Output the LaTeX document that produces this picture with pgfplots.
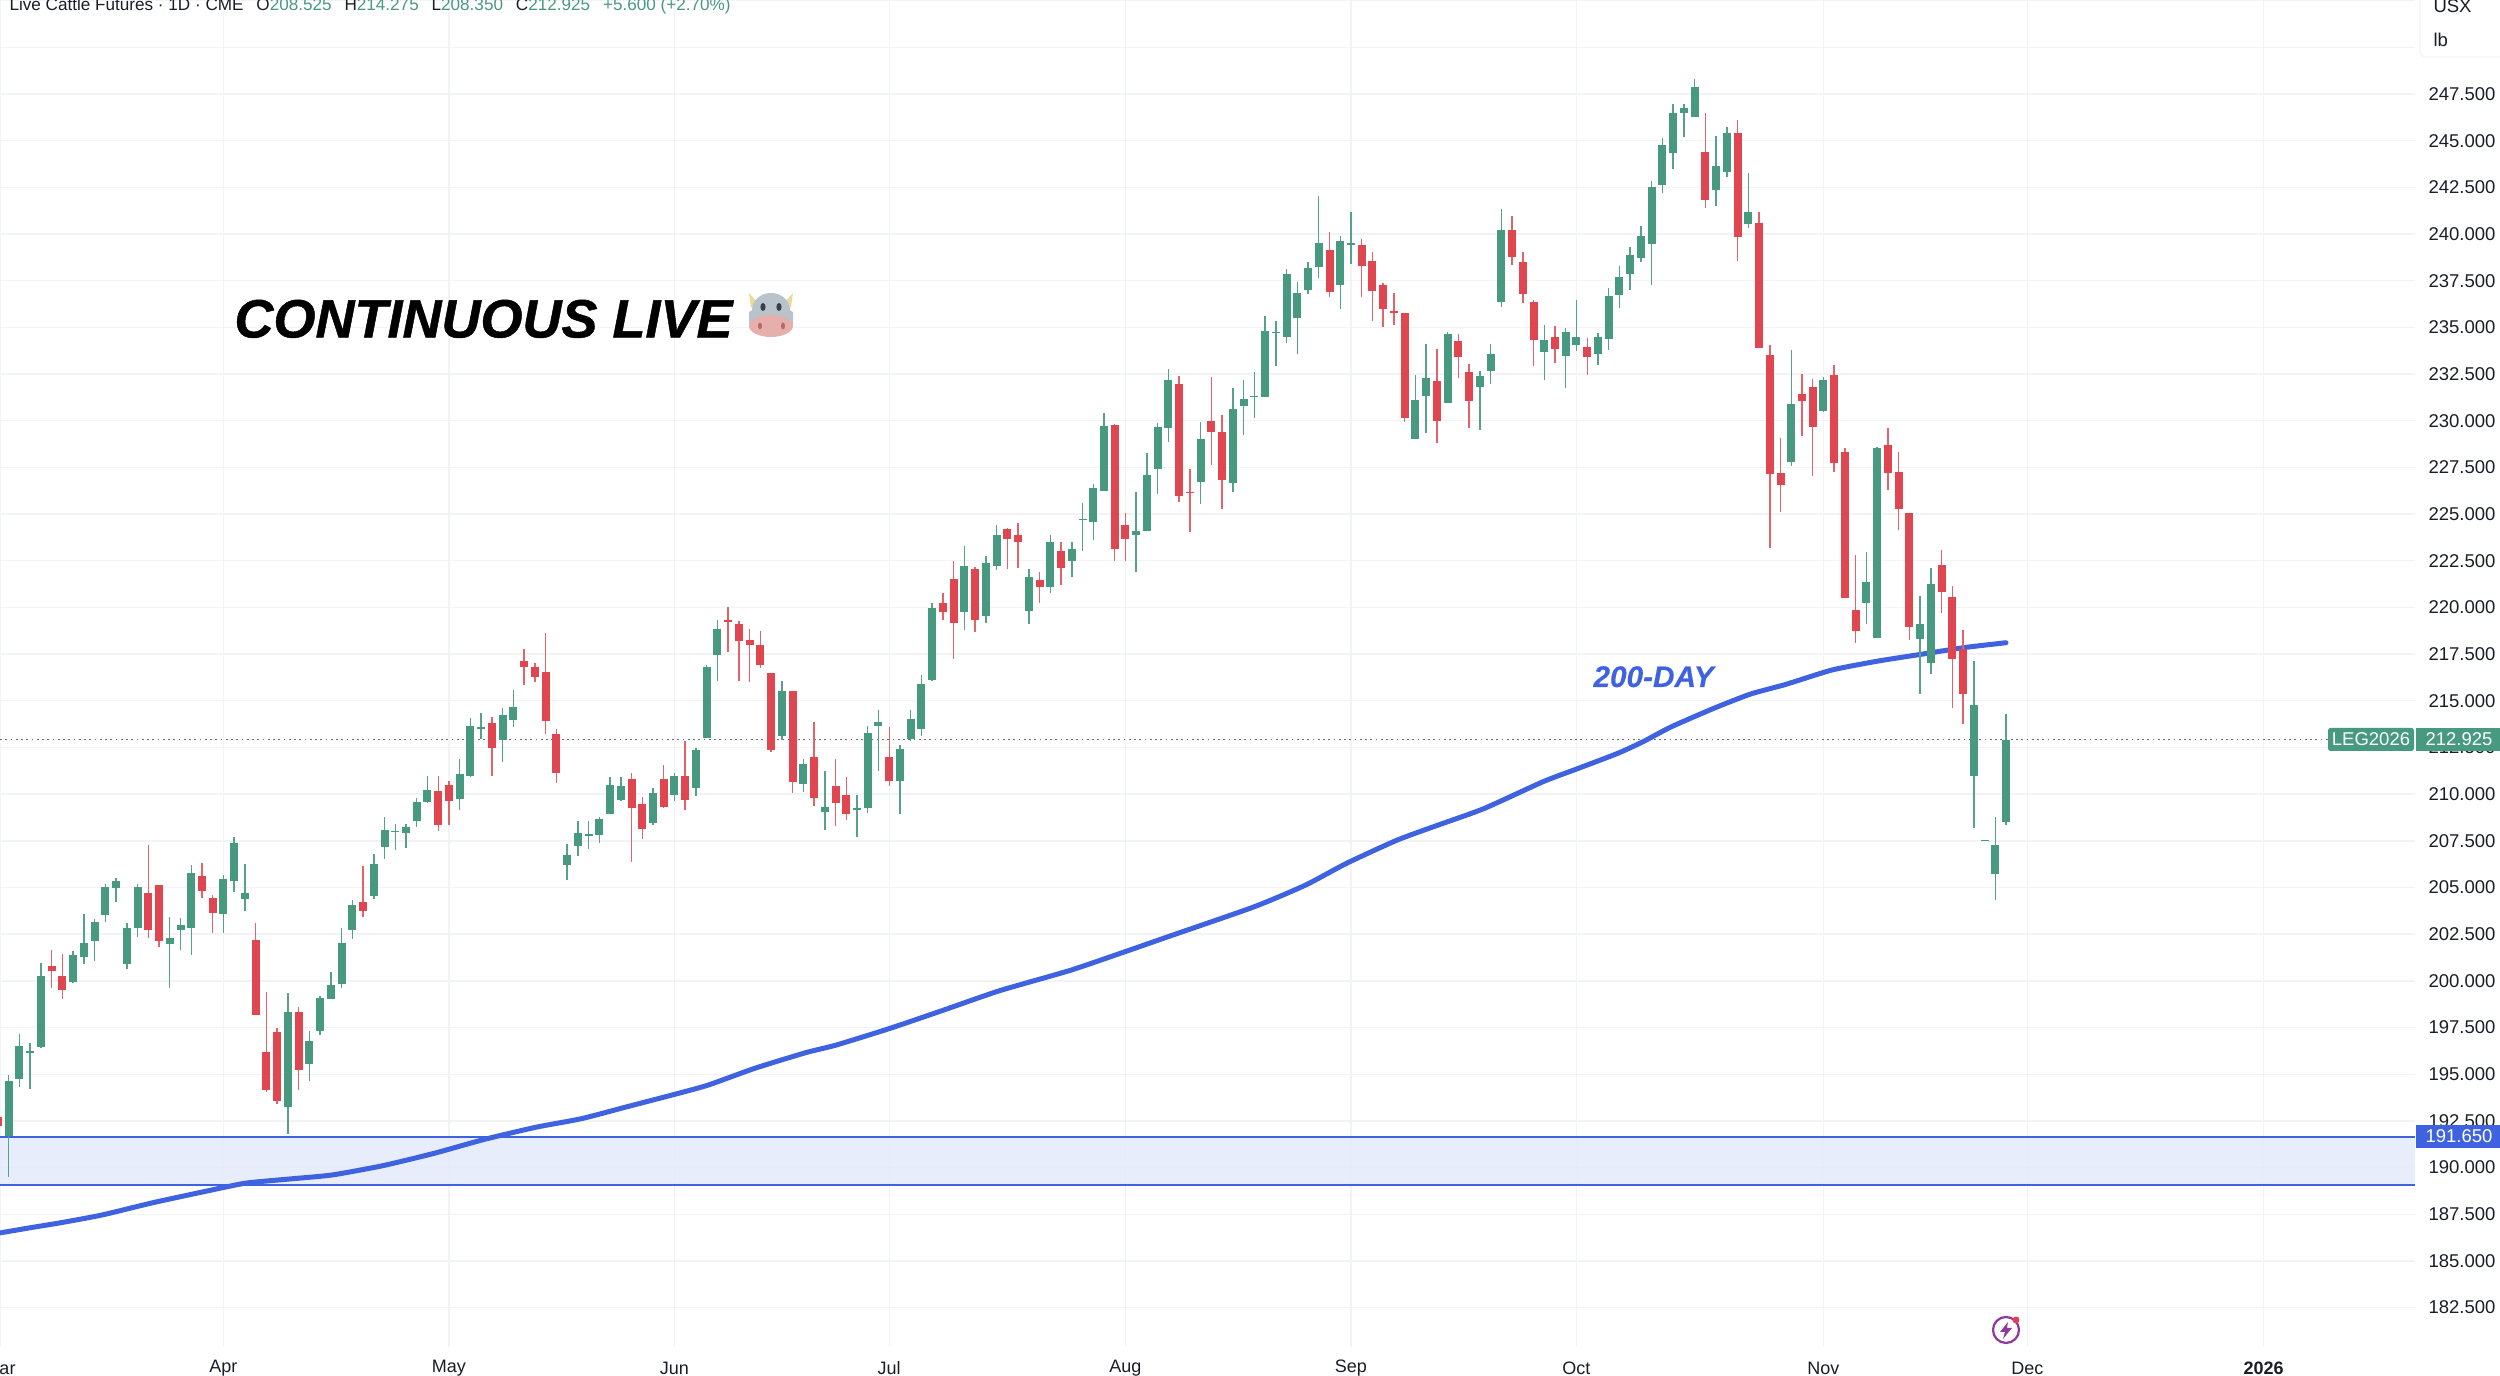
\documentclass[border=0pt]{standalone}
\usepackage{pgfplots}
\usepackage{pgfplotstable}
\usepackage{fontspec}
\setmainfont{Liberation Sans}
\newfontfamily\heavy{Liberation Sans}[BoldItalicFeatures={FakeBold=0.9}]
\newfontfamily\semiheavy{Liberation Sans}[BoldItalicFeatures={FakeBold=0.3}]
\pgfplotsset{compat=1.18}
\definecolor{cg}{HTML}{479980}
\definecolor{cr}{HTML}{DF4650}
\definecolor{cb}{HTML}{3F63E0}
\definecolor{bandc}{HTML}{E3EAFA}
\definecolor{gridc}{HTML}{F2F3F5}
\definecolor{txt}{HTML}{1A1D26}
\definecolor{horn}{HTML}{EAD99A}
\definecolor{head}{HTML}{B9C3CC}
\definecolor{snout}{HTML}{E6AFAB}
\definecolor{eye}{HTML}{3A3F47}
\definecolor{nost}{HTML}{B66A66}
\definecolor{bolt}{HTML}{8E3B9E}
\definecolor{dotr}{HTML}{E0405A}
\pgfplotstableread{
i H T B L
0 194.94 194.64 191.67 189.49
1 197.18 196.52 194.74 194.32
2 196.66 196.27 196.15 194.21
3 200.94 200.27 196.46 196.39
6 201.58 201.38 199.93 199.89
7 203.60 202.05 201.26 200.88
8 203.32 203.16 202.11 201.06
9 205.18 205.02 203.54 203.14
10 205.50 205.34 204.96 204.23
11 203.08 202.82 200.90 200.65
12 205.18 205.02 202.84 202.37
15 203.42 202.31 201.99 199.60
16 203.34 203.00 202.71 201.66
17 206.21 205.80 202.84 201.38
20 205.66 205.44 203.58 202.59
21 207.70 207.38 205.34 204.75
22 206.27 204.69 204.37 203.72
26 199.34 198.35 193.22 191.81
28 197.34 196.80 195.57 194.66
29 199.20 199.06 197.34 197.08
30 200.49 199.79 199.04 199.02
31 202.81 202.05 199.85 199.60
32 204.35 204.05 202.71 202.23
34 206.77 206.27 204.55 204.37
35 208.77 208.08 207.18 206.53
36 208.41 208.04 207.98 206.99
37 208.39 208.23 207.92 207.12
38 209.78 209.58 208.57 208.25
39 210.97 210.20 209.56 209.52
42 211.88 211.09 209.74 209.13
43 214.08 213.64 210.95 210.93
44 214.32 213.62 213.49 212.97
46 214.59 214.24 212.91 211.74
47 215.59 214.65 213.98 213.58
52 207.33 206.72 206.18 205.40
53 208.57 207.90 207.22 206.67
54 208.55 207.84 207.74 207.07
55 208.77 208.65 207.82 207.40
56 210.93 210.49 208.95 208.95
57 210.90 210.41 209.68 209.65
60 210.33 210.04 208.47 208.36
62 211.15 210.97 209.95 209.65
64 212.45 212.34 210.33 209.92
65 216.93 216.83 213.02 213.02
66 219.31 218.86 217.47 216.08
72 216.04 215.52 213.13 212.90
74 211.88 211.63 210.56 210.11
76 211.24 209.33 209.02 208.09
79 209.97 209.24 209.17 207.70
80 213.63 213.25 209.25 209.00
81 214.49 213.86 213.63 211.25
83 212.63 212.41 210.70 208.92
84 214.49 214.04 212.93 212.83
85 216.36 215.90 213.50 213.11
86 220.22 219.97 216.13 216.08
89 223.27 222.20 219.74 218.77
91 222.75 222.38 219.52 219.18
92 224.40 223.90 222.22 222.00
95 222.04 221.61 219.81 219.11
97 223.89 223.48 221.11 220.79
99 223.48 223.11 222.48 221.63
100 225.57 224.75 224.68 223.00
101 226.59 226.41 224.59 223.59
102 230.41 229.71 226.25 226.25
105 226.20 224.07 223.88 221.91
106 228.29 227.07 224.11 224.11
107 229.89 229.64 227.41 226.05
108 232.75 232.20 229.59 228.84
111 229.95 229.00 226.73 225.55
114 231.73 230.64 226.68 226.18
115 232.18 231.16 230.77 229.22
116 232.61 231.34 231.27 230.14
117 235.61 234.82 231.27 231.27
118 235.32 234.77 234.70 232.93
119 238.13 237.84 234.48 234.14
120 237.41 236.82 235.48 233.55
121 238.52 238.20 237.00 236.77
122 242.05 239.52 238.23 237.66
124 239.89 239.64 237.29 235.96
125 241.20 239.54 239.43 238.41
131 232.47 231.11 229.02 229.00
132 234.11 232.27 231.34 229.36
134 234.75 234.63 230.96 230.96
137 232.64 232.39 231.80 229.48
138 234.13 233.57 232.66 231.98
139 241.34 240.23 236.36 236.07
143 235.13 234.30 233.70 232.18
145 234.98 234.73 233.48 231.77
146 236.45 234.48 234.04 233.71
148 234.68 234.48 233.55 233.00
149 237.09 236.68 234.37 233.77
150 238.30 237.71 236.73 236.05
151 239.32 238.86 237.86 237.00
152 240.43 239.91 238.73 238.48
153 242.82 242.53 239.48 237.27
154 245.12 244.77 242.62 242.18
155 246.98 246.50 244.34 243.50
156 246.98 246.75 246.50 245.18
157 248.32 247.86 246.25 246.25
159 245.27 243.64 242.37 241.52
160 245.75 245.43 243.34 243.03
162 243.25 241.16 240.52 240.34
166 233.78 230.89 227.77 227.55
169 232.34 232.19 230.52 230.45
173 222.95 221.35 220.26 219.09
174 228.58 228.54 218.34 218.34
178 220.61 219.11 218.32 215.34
179 222.12 221.27 217.05 216.43
183 217.11 214.75 210.96 208.19
184 207.52 207.52 207.48 207.48
185 208.78 207.30 205.73 204.33
186 214.275 212.925 208.525 208.35
}\greenbars
\pgfplotstableread{
i H T B L
-1 192.96 192.70 192.22 192.07
4 201.64 200.78 200.55 199.60
5 201.42 200.27 199.52 199.04
13 207.28 204.73 202.75 202.29
14 205.14 205.12 202.11 201.81
18 206.33 205.62 204.81 204.45
19 204.61 204.45 203.64 202.55
23 203.10 202.21 198.17 198.17
24 199.40 196.21 194.15 194.03
25 197.49 197.26 193.59 193.41
27 198.58 198.35 195.20 194.13
33 206.17 204.25 203.72 203.40
40 210.95 210.18 208.37 208.00
41 210.69 210.51 209.64 208.33
45 214.12 213.80 212.49 210.99
48 217.76 217.13 216.81 215.82
49 217.03 216.83 216.30 216.00
50 218.62 216.54 213.94 213.23
51 213.47 213.23 211.15 210.61
58 211.15 210.79 209.27 206.34
59 209.83 209.49 208.15 207.58
61 211.56 210.79 209.31 209.27
63 212.84 210.97 209.68 209.13
67 220.04 219.34 219.22 217.63
68 219.29 219.13 218.18 216.08
69 218.83 218.24 217.99 215.99
70 218.75 217.97 216.91 216.74
71 216.50 216.49 212.38 212.25
73 215.54 215.52 210.63 210.08
75 213.84 211.97 209.77 209.36
77 211.90 210.41 209.52 208.29
78 210.93 209.97 208.95 208.59
82 213.61 212.00 210.70 210.43
87 220.79 220.24 219.74 219.33
88 222.50 221.50 219.18 217.22
90 222.15 222.06 219.33 218.70
93 224.24 224.20 223.67 222.08
94 224.54 223.90 223.50 222.13
96 221.91 221.47 221.11 220.25
98 223.48 223.04 222.12 221.18
103 229.81 229.77 223.11 222.48
104 225.04 224.41 223.66 222.48
109 232.39 231.98 225.97 225.63
110 227.39 226.18 226.11 224.02
112 232.32 229.97 229.41 227.63
113 230.30 229.37 226.82 225.25
123 240.13 239.16 236.87 236.63
126 239.75 239.41 238.29 236.63
127 239.02 238.54 236.93 235.36
128 237.38 237.27 235.98 235.04
129 236.86 235.86 235.79 235.14
130 235.75 235.75 230.13 229.93
133 233.82 232.13 229.97 228.80
135 234.63 234.27 233.43 232.27
136 233.04 232.61 231.07 229.61
140 240.97 240.20 238.75 238.32
141 239.05 238.50 236.80 236.32
142 236.48 236.37 234.30 232.91
144 235.09 234.48 233.82 233.11
147 234.45 233.97 233.43 232.47
158 246.46 244.37 241.82 241.41
161 246.12 245.43 239.82 238.53
163 241.16 240.61 233.91 233.89
164 234.05 233.52 227.15 223.19
165 229.09 227.20 226.56 225.11
167 232.50 231.41 231.07 229.19
168 232.23 231.82 229.66 227.03
170 232.98 232.46 227.75 227.25
171 228.52 228.34 220.49 220.49
172 222.83 219.86 218.73 218.08
175 229.59 228.68 227.19 226.30
176 228.30 227.27 225.25 224.14
177 225.05 225.05 218.97 218.27
180 223.05 222.28 220.83 219.70
181 221.13 220.55 217.23 214.63
182 218.79 217.78 215.38 213.78
}\redbars
\pgfplotstableread{
i P
-0.81 186.50
2.04 186.78
4.89 187.05
8.69 187.46
13.44 188.12
18.19 188.71
22.0 189.16
25.8 189.37
30.07 189.60
34.83 190.10
39.6 190.76
44.3 191.51
49.1 192.16
53.35 192.62
57.6 193.26
62.4 193.98
65.2 194.43
69.5 195.32
74.2 196.15
77.05 196.56
82.04 197.45
87.04 198.43
92.26 199.47
98.9 200.57
104.1 201.59
107.94 202.36
116.0 203.97
120.77 205.13
124.57 206.29
129.3 207.54
133.1 208.34
137.4 209.23
142.9 210.67
146.03 211.35
149.86 212.19
152.2 212.81
154.84 213.61
158.8 214.60
162.2 215.36
165.5 215.88
169.8 216.65
174.1 217.13
178.1 217.49
182.1 217.85
186.0 218.11
}\maline
\begin{document}
\begin{tikzpicture}
\useasboundingbox (0,-11.6pt) rectangle (1000pt,538.8pt);
\clip (0,-11.6pt) rectangle (1000pt,538.8pt);
\begin{axis}[
  at={(0,0)}, anchor=south west,
  scale only axis, width=966pt, height=538.8pt,
  xmin=-0.81, xmax=224.09, ymin=180.39, ymax=252.535,
  clip=false,
  axis line style={draw=none},
  tick style={draw=none},
  major tick length=0pt,
  xmajorgrids, ymajorgrids,
  major grid style={line width=0.55pt, draw=gridc},
  xtick={-0.81,20,41,62,82,104,125,146,169,188,210},
  xticklabels={Mar,Apr,May,Jun,Jul,Aug,Sep,Oct,Nov,Dec,\textbf{2026}},
  xticklabel style={font=\fontsize{7.2}{8}\selectfont, text=txt, inner sep=0pt, anchor=center, yshift=-8.6pt},
  ytick={182.5,185,187.5,190,192.5,195,197.5,200,202.5,205,207.5,210,212.5,215,217.5,220,222.5,225,227.5,230,232.5,235,237.5,240,242.5,245,247.5,250,252.5},
  yticklabels={182.500,185.000,187.500,190.000,192.500,195.000,197.500,200.000,202.500,205.000,207.500,210.000,212.500,215.000,217.500,220.000,222.500,225.000,227.500,230.000,232.500,235.000,237.500,240.000,242.500,245.000,247.500,,},
  yticklabel pos=right,
  yticklabel style={font=\fontsize{7.4}{8}\selectfont, text=txt, inner sep=0pt, anchor=west, xshift=5.2pt},
]
% support zone
\addplot[draw=none, fill=bandc, fill opacity=0.85, forget plot] coordinates {(-0.81,189.07)(224.09,189.07)(224.09,191.65)(-0.81,191.65)} -- cycle;
\addplot[cb, line width=0.95pt, forget plot] coordinates {(-0.81,191.65)(224.09,191.65)};
\addplot[cb, line width=0.95pt, forget plot] coordinates {(-0.81,189.07)(224.09,189.07)};
% last price
\addplot[gray!85!black, line width=0.5pt, dash pattern=on 0.7pt off 1.4pt, forget plot] coordinates {(-0.81,212.925)(216,212.925)};
% 200-day average
\addplot[cb, line width=2pt, line cap=round, line join=round, smooth, tension=0.35, forget plot] table[x=i,y=P] {\maline};
% wicks
\addplot[draw=none, mark=none, forget plot, error bars/.cd, y dir=both, y explicit, error mark=none, error bar style={draw=cg!92!white, line width=0.58pt}]
  table[x=i,y=T,y error plus expr=\thisrow{H}-\thisrow{T},y error minus expr=\thisrow{T}-\thisrow{L}] {\greenbars};
\addplot[draw=none, mark=none, forget plot, error bars/.cd, y dir=both, y explicit, error mark=none, error bar style={draw=cr!85!white, line width=0.58pt}]
  table[x=i,y=T,y error plus expr=\thisrow{H}-\thisrow{T},y error minus expr=\thisrow{T}-\thisrow{L}] {\redbars};
% bodies
\addplot[draw=none, mark=none, forget plot, error bars/.cd, y dir=minus, y explicit, error mark=none, error bar style={draw=cg, line width=3.2pt}]
  table[x=i,y=T,y error minus expr=\thisrow{T}-\thisrow{B}] {\greenbars};
\addplot[draw=none, mark=none, forget plot, error bars/.cd, y dir=minus, y explicit, error mark=none, error bar style={draw=cr, line width=3.2pt}]
  table[x=i,y=T,y error minus expr=\thisrow{T}-\thisrow{B}] {\redbars};
\end{axis}
\begin{scope}[x=0.4pt,y=-0.4pt,yshift=538.8pt]
% header
\node[anchor=base west, inner sep=0pt, font=\fontsize{6.85}{8}\selectfont, text=txt] at (9,10.7)
 {Live Cattle Futures · 1D · CME\hspace{0.75em}O\textcolor{cg}{208.525}\hspace{0.75em}H\textcolor{cg}{214.275}\hspace{0.75em}L\textcolor{cg}{208.350}\hspace{0.75em}C\textcolor{cg}{212.925}\hspace{0.75em}\textcolor{cg}{+5.600 (+2.70\%)}};
% currency box
\filldraw[fill=white, draw=gridc, line width=0.5pt, rounded corners=2pt] (2420,-20) rectangle (2520,57);
\node[anchor=west, inner sep=0pt, font=\fontsize{7.4}{8}\selectfont, text=txt] at (2433,6) {USX};
\node[anchor=west, inner sep=0pt, font=\fontsize{7.4}{8}\selectfont, text=txt] at (2433,40) {lb};
% price labels
\fill[cg, rounded corners=1pt] (2328,728) rectangle (2414,751);
\node[inner sep=0pt, font=\fontsize{7.4}{8}\selectfont, text=white] at (2371,739.5) {LEG2026};
\fill[cg] (2416,728) rectangle (2500,751);
\node[anchor=east, inner sep=0pt, font=\fontsize{7.4}{8}\selectfont, text=white] at (2493,739.5) {212.925};
\fill[cb] (2416,1125) rectangle (2500,1148);
\node[anchor=east, inner sep=0pt, font=\fontsize{7.4}{8}\selectfont, text=white] at (2493,1136.5) {191.650};
% annotations
\node[anchor=base west, inner sep=0pt, font=\heavy\fontsize{21.6}{24}\selectfont\bfseries\itshape, text=black] at (234,337.5) {CONTINUOUS LIVE};
\node[anchor=base west, inner sep=0pt, font=\semiheavy\fontsize{11.9}{13}\selectfont\bfseries\itshape, text=cb] at (1593,687) {200-DAY};
% cow face
\fill[horn] (749,293) -- (757,302) -- (751,308) -- cycle;
\fill[horn] (793,293) -- (785,302) -- (791,308) -- cycle;
\fill[head] (771,310) ellipse [x radius=19, y radius=17];
\fill[head] (749,312) -- (756,308) -- (756,324) -- (749,324) -- cycle;
\fill[head] (793,312) -- (786,308) -- (786,324) -- (793,324) -- cycle;
\fill[snout] (771,326) ellipse [x radius=22, y radius=11];
\fill[eye] (763,307) ellipse [x radius=2.6, y radius=4];
\fill[eye] (779,307) ellipse [x radius=2.6, y radius=4];
\fill[nost] (760,326) ellipse [x radius=2, y radius=3.4];
\fill[nost] (783,326) ellipse [x radius=2, y radius=3.4];
% bolt icon
\draw[bolt, line width=0.9pt] (2006,1330) circle [radius=13];
\fill[bolt] (2008,1322) -- (2000,1332) -- (2005,1332) -- (2003,1339) -- (2012,1328) -- (2007,1328) -- cycle;
\fill[dotr] (2016,1320) circle [radius=3.5];
\end{scope}
\end{tikzpicture}
\end{document}
